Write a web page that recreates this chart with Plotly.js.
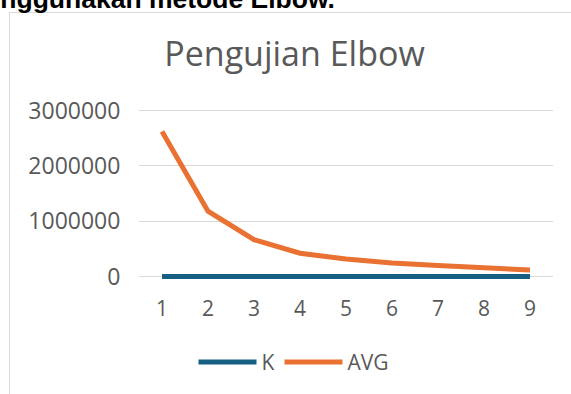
<!DOCTYPE html>
<html>
<head>
<meta charset="utf-8">
<script src="https://cdn.plot.ly/plotly-3.0.1.min.js"></script>
<style>
  html, body { margin: 0; padding: 0; background: #fff; overflow: hidden; }
  #wrap { position: relative; width: 571px; height: 394px; overflow: hidden; }
  #chart { position: absolute; left: 0; top: 0; width: 571px; height: 394px; }
  #frame { position: absolute; left: 9px; top: 12px; width: 580px; height: 400px;
           border-left: 1px solid #d9d9d9; border-top: 1px solid #d9d9d9; pointer-events: none; }
  #heading { position: absolute; left: 0; top: 0; pointer-events: none; }
</style>
</head>
<body>
<div id="wrap">
  <div id="chart"></div>
  <div id="frame"></div>
  <svg id="heading" width="571" height="20" xmlns="http://www.w3.org/2000/svg">
    <text x="335" y="8" text-anchor="end" font-family="Liberation Sans, Arial, sans-serif"
          font-weight="bold" font-size="26.5" fill="#000">nggunakan metode Elbow.</text>
  </svg>
</div>
<script>
const categories = ['1', '2', '3', '4', '5', '6', '7', '8', '9'];
const kValues = [1, 2, 3, 4, 5, 6, 7, 8, 9];
const avgValues = [2620000, 1180000, 665000, 420000, 315000, 243000, 200000, 152000, 116000];
const yTicks = [0, 1000000, 2000000, 3000000];
const yTickLabels = ['0', '1000000', '2000000', '3000000'];

const fontFam = '"Open Sans", "Liberation Sans", sans-serif';
const grey = '#595959';

const traces = [
  { x: categories, y: kValues, name: 'K', type: 'scatter', mode: 'lines',
    line: { color: '#156082', width: 5 } },
  { x: categories, y: avgValues, name: 'AVG', type: 'scatter', mode: 'lines',
    line: { color: '#E97132', width: 5 } }
];

const layout = {
  width: 571, height: 394,
  margin: { l: 139, r: 18, t: 105, b: 111, pad: 0 },
  paper_bgcolor: 'rgba(0,0,0,0)', plot_bgcolor: 'rgba(0,0,0,0)',
  font: { family: fontFam, color: grey, size: 22 },
  title: { text: 'Pengujian Elbow', font: { family: fontFam, size: 34, color: grey },
           x: 294.5 / 571, xanchor: 'center', xref: 'container',
           y: 1 - 54 / 394, yanchor: 'middle', yref: 'container' },
  xaxis: { type: 'category', range: [-0.5, 8.5], showgrid: false, zeroline: false,
           showline: false, ticks: 'outside', ticklen: 8, tickcolor: 'rgba(0,0,0,0)',
           tickfont: { family: fontFam, size: 21, color: grey }, fixedrange: true },
  yaxis: { range: [-100000, 3100000], tickvals: yTicks, ticktext: yTickLabels,
           showgrid: true, gridcolor: '#d9d9d9', gridwidth: 1, zeroline: false,
           showline: false, ticks: 'outside', ticklen: 13, tickcolor: 'rgba(0,0,0,0)',
           tickfont: { family: fontFam, size: 23, color: grey }, fixedrange: true },
  showlegend: true,
  legend: { orientation: 'h', x: (294 - 139) / 414, xanchor: 'center',
            y: (282.5 - 361.5) / 177, yanchor: 'middle', itemwidth: 58,
            font: { family: fontFam, size: 21, color: grey },
            bgcolor: 'rgba(0,0,0,0)' }
};

Plotly.newPlot('chart', traces, layout, { displayModeBar: false, staticPlot: true });
</script>
</body>
</html>
